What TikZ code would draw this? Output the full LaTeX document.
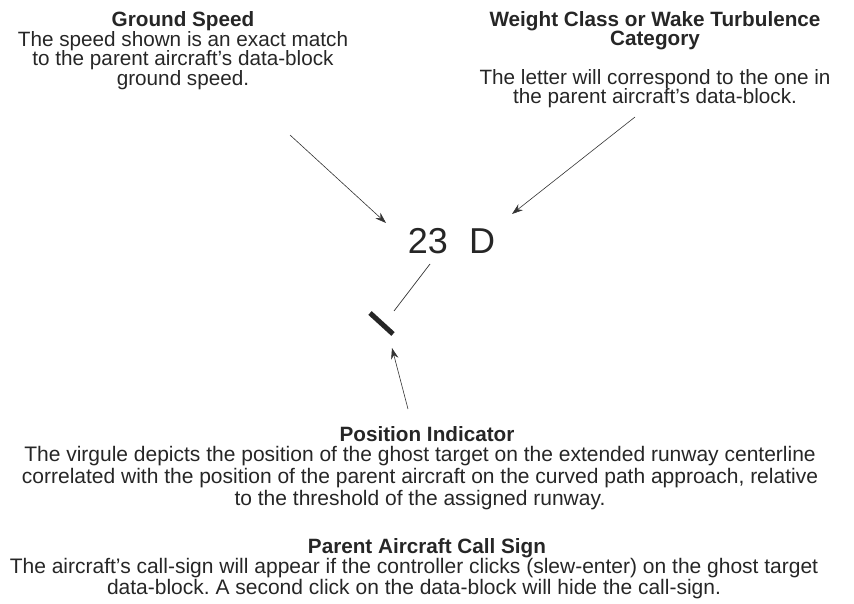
\documentclass[tikz,border=0pt]{standalone}
\usepackage{fontspec}
\setmainfont{Liberation Sans}
\usetikzlibrary{arrows.meta}
\frenchspacing

\begin{document}
\begin{tikzpicture}[x=1pt,y=-1pt,
  every node/.style={font=\fontsize{20.7}{19.5}\selectfont, align=center, inner sep=0pt, text=black!85},
  head/.style={font=\fontsize{20.7}{19.5}\selectfont\bfseries},
  lower/.style={font=\fontsize{21}{22}\selectfont},
  big/.style={font=\fontsize{36}{36}\selectfont},
  arr/.style={-{Stealth[length=11pt,width=7.5pt]}, line width=0.6pt, black!80}]
  \useasboundingbox (0,0) rectangle (854,604);
  % top left: ground speed
  \node[head, anchor=north] (gshead) at (183,11) {Ground Speed};
  \node[anchor=north] (gstext) at (183,31) {The speed shown is an exact match\\to the parent aircraft’s data-block\\ground speed.};
  % top right: weight class
  \node[head, anchor=north] (wchead) at (655,11) {Weight Class or Wake Turbulence\\Category};
  \node[anchor=north] (wctext) at (655,69) {The letter will correspond to the one in\\the parent aircraft’s data-block.};
  % the ghost data-block
  \node[big, anchor=base] (spd) at (428,253) {23};
  \node[big, anchor=base] (wtc) at (482,253) {D};
  \coordinate (gstail) at (290,135);
  \coordinate (gstip) at (386,223);
  \coordinate (wctail) at (635,117);
  \coordinate (wctip) at (512,214);
  \draw[arr] (gstail) -- (gstip);
  \draw[arr] (wctail) -- (wctip);
  % leader and virgule
  \coordinate (ldtop) at (430,264);
  \coordinate (ldbot) at (394,311);
  \draw[line width=0.7pt, black!80] (ldtop) -- (ldbot);
  \coordinate (vga) at (370,313);
  \coordinate (vgb) at (393,334);
  \draw[line width=5pt, black!85] (vga) -- (vgb);
  \coordinate (pitail) at (408,409);
  \coordinate (pitip) at (392,348);
  \draw[arr] (pitail) -- (pitip);
  % bottom: position indicator
  \node[head, anchor=north] (pihead) at (427,426) {Position Indicator};
  \node[lower, anchor=north] (pitext) at (420,446) {The virgule depicts the position of the ghost target on the extended runway centerline\\correlated with the position of the parent aircraft on the curved path approach, relative\\to the threshold of the assigned runway.};
  % bottom: call sign
  \node[head, anchor=north] (cshead) at (427,538) {Parent Aircraft Call Sign};
  \node[lower, anchor=north, font=\fontsize{21}{21.5}\selectfont] (cstext) at (414,558) {The aircraft’s call-sign will appear if the controller clicks (slew-enter) on the ghost target\\data-block. A second click on the data-block will hide the call-sign.};
\end{tikzpicture}
\end{document}
